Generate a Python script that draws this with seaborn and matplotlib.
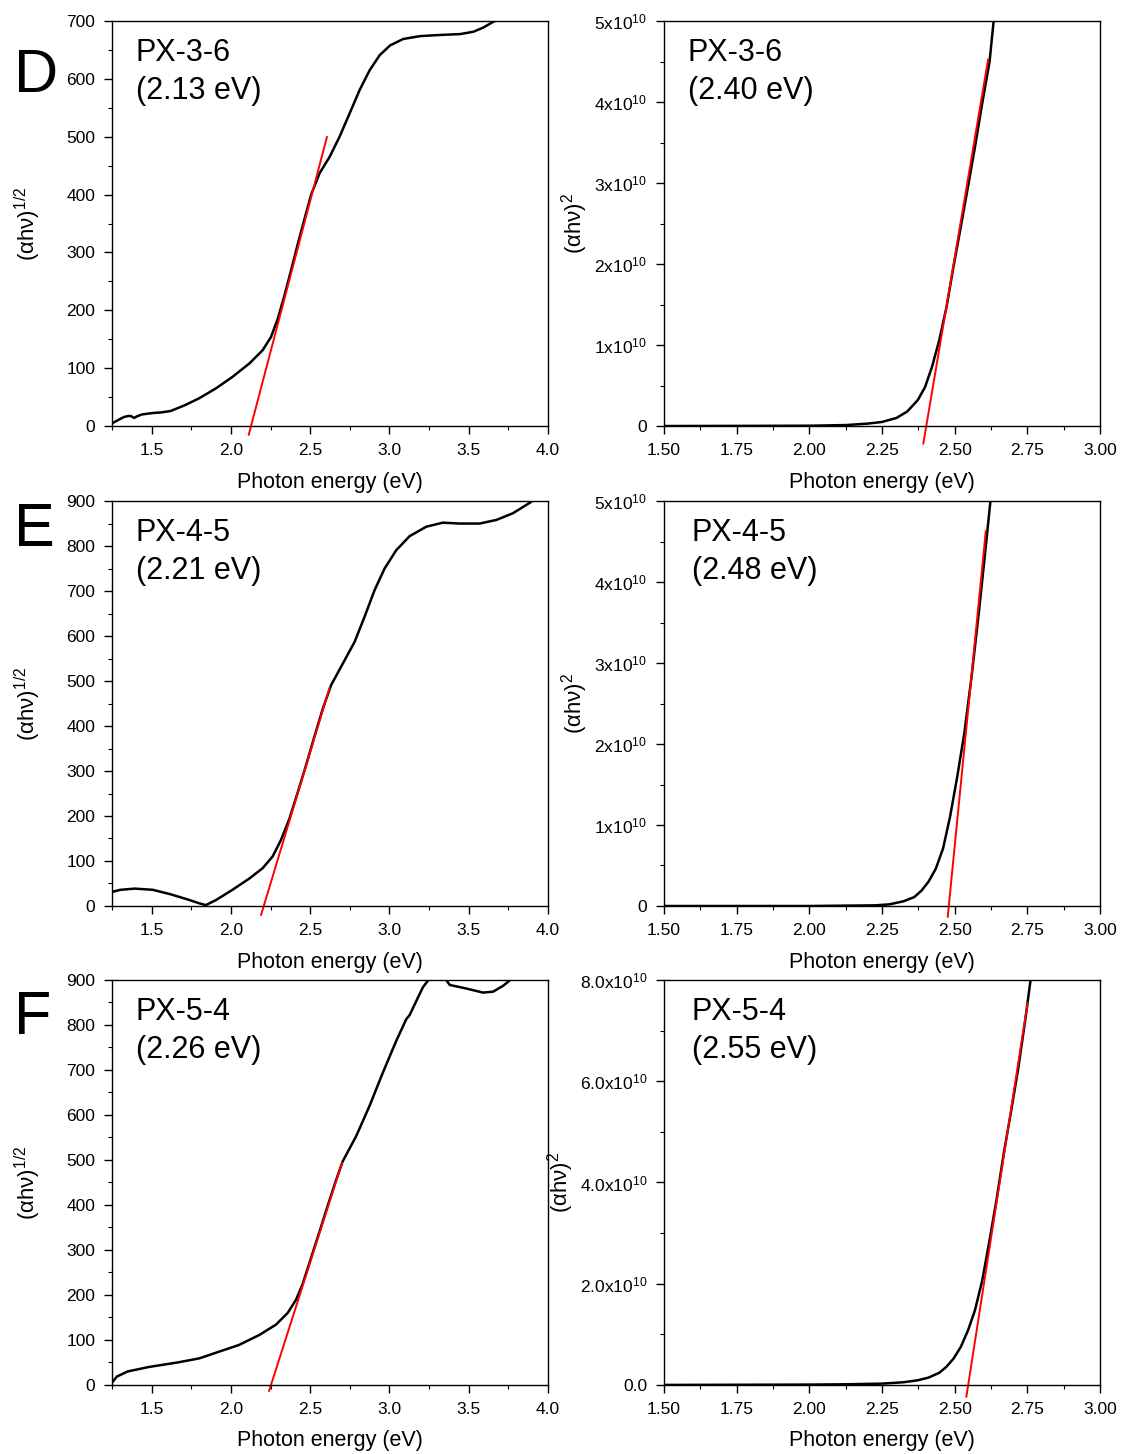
import matplotlib
import numpy as np
import pandas as pd
import seaborn as sns

matplotlib.use("Agg")
import matplotlib.pyplot as plt
from matplotlib.ticker import AutoMinorLocator, FuncFormatter, MultipleLocator

# --- data -------------------------------------------------------------------
SAMPLES = ["PX-3-6", "PX-4-5", "PX-5-4"]
PANEL_LETTERS = ["D", "E", "F"]
INDIRECT_GAPS = ["2.13", "2.21", "2.26"]
DIRECT_GAPS = ["2.40", "2.48", "2.55"]

# (alpha h nu)^1/2 curves
d_half_x = [1.247, 1.30, 1.326, 1.355, 1.371, 1.389, 1.41, 1.439, 1.507, 1.56, 1.62, 1.71,
            1.80, 1.905, 2.01, 2.116, 2.20, 2.253, 2.295, 2.337, 2.38, 2.422, 2.464,
            2.506, 2.559, 2.622, 2.685, 2.748, 2.812, 2.875, 2.938, 3.004, 3.086, 3.192,
            3.318, 3.445, 3.53, 3.593, 3.656, 3.665]
d_half_y = [4, 12, 15.6, 17.5, 17, 14, 17, 20, 22.5, 23.5, 26, 36,
            48, 65, 85, 108, 131, 154, 185, 225, 270, 315, 358,
            400, 437, 465, 500, 540, 581, 615, 641, 658, 669, 674,
            676, 677.5, 681.6, 689, 699, 700]

e_half_x = [1.247, 1.304, 1.394, 1.507, 1.62, 1.732, 1.80, 1.842, 1.905, 2.01, 2.116,
            2.20, 2.263, 2.316, 2.368, 2.421, 2.474, 2.527, 2.579, 2.632, 2.706, 2.78,
            2.843, 2.906, 2.969, 3.043, 3.127, 3.232, 3.337, 3.443, 3.569, 3.674, 3.779,
            3.884, 3.90]
e_half_y = [31, 36, 38.6, 36, 26, 14, 6, 2, 13, 36, 61,
            84, 110, 147, 193, 252, 313, 377, 438, 491, 539, 587,
            643, 702, 750, 791, 822, 843, 852, 850, 850, 858, 873,
            896, 900]

f_half_x = [1.247, 1.281, 1.349, 1.484, 1.665, 1.80, 1.926, 2.052, 2.179, 2.284, 2.358,
            2.41, 2.452, 2.505, 2.558, 2.61, 2.663, 2.705, 2.79, 2.874, 2.958, 3.043,
            3.106, 3.127, 3.17, 3.211, 3.243, 3.30, 3.358, 3.38, 3.485, 3.59, 3.653,
            3.716, 3.758]
f_half_y = [4, 18.6, 30, 40, 50, 59, 74, 89, 111, 134, 160,
            189, 224, 282, 340, 398, 455, 497, 553, 620, 694, 765,
            813, 822, 854, 884, 899, 918, 900, 889, 881, 872, 874,
            887, 899]

# (alpha h nu)^2 curves, in units of 1e10
d_sq_x = [1.50, 1.80, 2.004, 2.127, 2.201, 2.25, 2.30, 2.337, 2.373, 2.398, 2.422, 2.447,
          2.472, 2.496, 2.521, 2.546, 2.570, 2.595, 2.62, 2.634]
d_sq_y = [0, 0.002, 0.004, 0.012, 0.03, 0.05, 0.10, 0.18, 0.32, 0.48, 0.73, 1.06,
          1.47, 1.97, 2.46, 2.96, 3.45, 3.99, 4.50, 5.0]

e_sq_x = [1.50, 2.004, 2.226, 2.275, 2.324, 2.361, 2.386, 2.41, 2.435, 2.46, 2.484,
          2.509, 2.533, 2.558, 2.583, 2.607, 2.623]
e_sq_y = [0, 0, 0.008, 0.02, 0.058, 0.11, 0.19, 0.30, 0.46, 0.71, 1.10,
          1.60, 2.13, 2.83, 3.62, 4.44, 5.0]

f_sq_x = [1.50, 2.004, 2.127, 2.25, 2.324, 2.373, 2.41, 2.447, 2.472, 2.496, 2.521,
          2.546, 2.57, 2.595, 2.62, 2.644, 2.669, 2.693, 2.718, 2.743, 2.761]
f_sq_y = [0, 0.007, 0.013, 0.026, 0.053, 0.092, 0.145, 0.24, 0.36, 0.52, 0.75,
          1.08, 1.48, 2.07, 2.86, 3.66, 4.58, 5.37, 6.23, 7.22, 8.0]

# red tangent lines (two end points each)
d_half_fit_x, d_half_fit_y = [2.112, 2.606], [-15.5, 500]
e_half_fit_x, e_half_fit_y = [2.19, 2.622], [-20, 485]
f_half_fit_x, f_half_fit_y = [2.24, 2.701], [-14, 494]
d_sq_fit_x, d_sq_fit_y = [2.392, 2.615], [-0.219, 4.526]
e_sq_fit_x, e_sq_fit_y = [2.476, 2.607], [-0.136, 4.63]
f_sq_fit_x, f_sq_fit_y = [2.54, 2.751], [-0.238, 7.55]

HALF_YMAX = [700, 900, 900]
SQ_YMAX = [5e10, 5e10, 8e10]
SQ_YSTEP = [1e10, 1e10, 2e10]
SQ_DECIMALS = [0, 0, 1]

E10 = 1e10

half_curves = [(d_half_x, d_half_y), (e_half_x, e_half_y), (f_half_x, f_half_y)]
half_fits = [(d_half_fit_x, d_half_fit_y), (e_half_fit_x, e_half_fit_y), (f_half_fit_x, f_half_fit_y)]
sq_curves = [(d_sq_x, d_sq_y), (e_sq_x, e_sq_y), (f_sq_x, f_sq_y)]
sq_fits = [(d_sq_fit_x, d_sq_fit_y), (e_sq_fit_x, e_sq_fit_y), (f_sq_fit_x, f_sq_fit_y)]


def sci_formatter(decimals):
    def fmt(value, _pos):
        mant = value / E10
        if abs(mant) < 1e-9:
            return "0" if decimals == 0 else f"{0:.{decimals}f}"
        return rf"${mant:.{decimals}f}\mathrm{{x}}10^{{10}}$"
    return FuncFormatter(fmt)


def style_axis(ax):
    for spine in ax.spines.values():
        spine.set_visible(True)
        spine.set_linewidth(1.0)
        spine.set_color("black")
    ax.tick_params(which="major", direction="out", length=6, width=1.0,
                   labelsize=12.5, colors="black", pad=6)
    ax.tick_params(which="minor", direction="out", length=3, width=0.8, colors="black")
    ax.xaxis.set_minor_locator(AutoMinorLocator(2))
    ax.yaxis.set_minor_locator(AutoMinorLocator(2))
    ax.set_xlabel("Photon energy (eV)", fontsize=15.5, labelpad=10, color="black")


def draw_curve(ax, xs, ys, fit_x, fit_y, scale=1.0):
    df = pd.DataFrame({"x": xs, "y": np.asarray(ys) * scale})
    sns.lineplot(data=df, x="x", y="y", ax=ax, color="black", linewidth=1.8,
                 sort=False, estimator=None)
    fit = pd.DataFrame({"x": fit_x, "y": np.asarray(fit_y) * scale})
    sns.lineplot(data=fit, x="x", y="y", ax=ax, color="#ff0000", linewidth=1.4,
                 sort=False, estimator=None, clip_on=False)


def main():
    sns.set_style("ticks")
    plt.rcParams["font.family"] = ["Liberation Sans", "DejaVu Sans"]
    plt.rcParams["text.color"] = "black"
    plt.rcParams["axes.labelcolor"] = "black"
    plt.rcParams["mathtext.fontset"] = "custom"
    plt.rcParams["mathtext.rm"] = "Liberation Sans"
    plt.rcParams["mathtext.it"] = "Liberation Sans"
    plt.rcParams["mathtext.bf"] = "Liberation Sans:bold"

    fig = plt.figure(figsize=(11.21, 14.54), dpi=100)

    lefts = [0.0999, 0.5923]
    bottoms = [0.707, 0.3769, 0.0475]
    width, height = 0.389, 0.2785
    letter_y = [0.9367, 0.6245, 0.2889]
    right_text_x = [0.054, 0.064, 0.064]
    text_size = 22

    for row in range(3):
        # left column: (alpha h nu)^1/2
        ax = fig.add_axes([lefts[0], bottoms[row], width, height])
        hx, hy = half_curves[row]
        fx, fy = half_fits[row]
        draw_curve(ax, hx, hy, fx, fy)
        ax.set_xlim(1.25, 4.0)
        ax.set_ylim(0, HALF_YMAX[row])
        ax.xaxis.set_major_locator(MultipleLocator(0.5))
        ax.yaxis.set_major_locator(MultipleLocator(100))
        ax.xaxis.set_major_formatter(FuncFormatter(lambda v, p: f"{v:.1f}"))
        style_axis(ax)
        ax.set_ylabel(r"$(\alpha\mathrm{h}\nu)^{1/2}$", fontsize=16, labelpad=17)
        ax.text(0.054, 0.902, SAMPLES[row], transform=ax.transAxes, fontsize=text_size,
                va="baseline", ha="left")
        ax.text(0.054, 0.808, f"({INDIRECT_GAPS[row]} eV)", transform=ax.transAxes,
                fontsize=text_size, va="baseline", ha="left")

        # right column: (alpha h nu)^2
        ax2 = fig.add_axes([lefts[1], bottoms[row], width, height])
        sx, sy = sq_curves[row]
        gx, gy = sq_fits[row]
        draw_curve(ax2, sx, sy, gx, gy, scale=E10)
        ax2.set_xlim(1.5, 3.0)
        ax2.set_ylim(0, SQ_YMAX[row])
        ax2.xaxis.set_major_locator(MultipleLocator(0.25))
        ax2.yaxis.set_major_locator(MultipleLocator(SQ_YSTEP[row]))
        ax2.xaxis.set_major_formatter(FuncFormatter(lambda v, p: f"{v:.2f}"))
        ax2.yaxis.set_major_formatter(sci_formatter(SQ_DECIMALS[row]))
        style_axis(ax2)
        ax2.set_ylabel(r"$(\alpha\mathrm{h}\nu)^{2}$", fontsize=16, labelpad=3)
        ax2.text(right_text_x[row], 0.902, SAMPLES[row], transform=ax2.transAxes,
                 fontsize=text_size, va="baseline", ha="left")
        ax2.text(right_text_x[row], 0.808, f"({DIRECT_GAPS[row]} eV)",
                 transform=ax2.transAxes, fontsize=text_size, va="baseline", ha="left")

        fig.text(0.0125, letter_y[row], PANEL_LETTERS[row], fontsize=44,
                 va="baseline", ha="left")

    fig.savefig("out.png", dpi=100, facecolor="white")
    plt.close(fig)


if __name__ == "__main__":
    main()
